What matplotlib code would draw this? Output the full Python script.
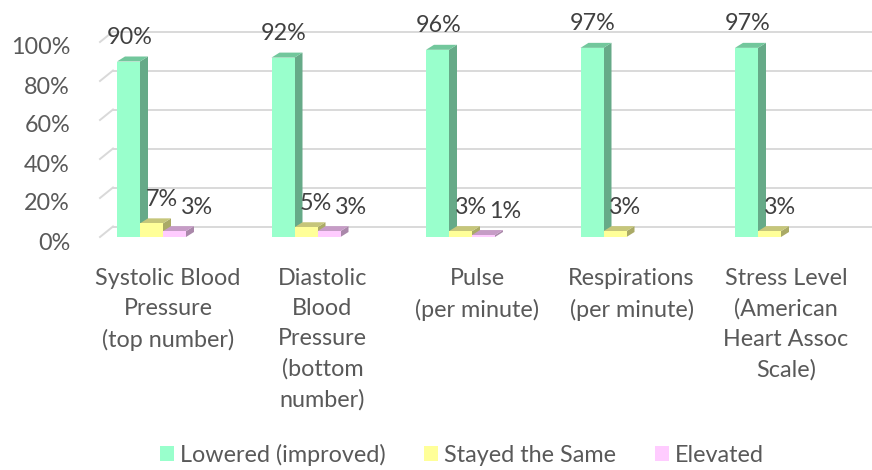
import matplotlib.pyplot as plt
from matplotlib.patches import Polygon, Patch
from matplotlib.transforms import ScaledTranslation

plt.rcParams['font.family'] = ['Lato', 'DejaVu Sans']

categories = ['Systolic Blood\nPressure\n(top number)',
              'Diastolic\nBlood\nPressure\n(bottom\nnumber)',
              'Pulse\n(per minute)',
              'Respirations\n(per minute)',
              'Stress Level\n(American\nHeart Assoc\nScale)']
series_names = ['Lowered (improved)', 'Stayed the Same', 'Elevated']
lowered = [90, 92, 96, 97, 97]
stayed = [7, 5, 3, 3, 3]
elevated = [3, 3, 1, 0, 0]
y_ticks = [0, 20, 40, 60, 80, 100]

FRONT = ['#99FFCC', '#FFFF99', '#FFCCFF']
SIDE = ['#66AA88', '#AAAA66', '#AA88AA']
TOP = ['#72C79C', '#C6C67A', '#C69CC6']
LABEL_DX = [1, 10, 22]   # px, label shift to the right of the bar centre
FS = 16.8

W, H = 872, 470
PX_X = 154.5   # px per category
PX_Y = 1.95    # px per percent
BAR_W = 23 / PX_X
DX, DY = 8 / PX_X, 5 / PX_Y          # bar depth
WALL_DX, WALL_DY = 13 / PX_X, 10.5 / PX_Y   # floor depth

fig = plt.figure(figsize=(W / 100, H / 100), dpi=100)
left, right, top, bottom = 100, 872, 18, 237
ax = fig.add_axes([left / W, 1 - bottom / H, (right - left) / W, (bottom - top) / H])
x0 = (left - 151.5) / PX_X
ax.set_xlim(x0, x0 + (right - left) / PX_X)
ax.set_ylim(0, (bottom - top) / PX_Y)
for s in ax.spines.values():
    s.set_visible(False)

grid_c = '#d9d9d9'
for v in y_ticks:
    ax.plot([x0, x0 + WALL_DX], [v, v + WALL_DY], color=grid_c, lw=1.4, clip_on=False, zorder=1)
    ax.plot([x0 + WALL_DX, ax.get_xlim()[1]], [v + WALL_DY] * 2, color=grid_c, lw=1.4,
            clip_on=False, zorder=1)

data = [lowered, stayed, elevated]
for i in range(len(categories)):
    gx = i - 1.5 * BAR_W
    for k, vals in enumerate(data):
        v = vals[i]
        if v == 0:
            continue
        x = gx + k * BAR_W
        side = [(x + BAR_W, 0), (x + BAR_W + DX, DY), (x + BAR_W + DX, v + DY), (x + BAR_W, v)]
        topf = [(x, v), (x + DX, v + DY), (x + BAR_W + DX, v + DY), (x + BAR_W, v)]
        ax.add_patch(Polygon(side, closed=True, fc=SIDE[k], ec='none', zorder=2, clip_on=False))
        ax.add_patch(Polygon(topf, closed=True, fc=TOP[k], ec='none', zorder=2, clip_on=False))
        ax.add_patch(plt.Rectangle((x, 0), BAR_W, v, fc=FRONT[k], ec='none', zorder=2, clip_on=False))
        ax.annotate(f'{v}%', (x + BAR_W / 2, v), xytext=(LABEL_DX[k] * 0.72, 24 * 0.72),
                    textcoords='offset points', ha='center', va='center',
                    fontsize=FS, color='#404040', zorder=3, annotation_clip=False)

ax.set_yticks(y_ticks)
ax.set_yticklabels([f'{v}%' for v in y_ticks])
ax.set_xticks([i + 16.5 / PX_X for i in range(len(categories))])
ax.set_xticklabels(categories, linespacing=1.53)
ax.tick_params(axis='both', length=0, labelsize=FS, labelcolor='#595959')
ax.tick_params(axis='y', pad=30 * 0.72)
ax.tick_params(axis='x', pad=31 * 0.72)
for lab in ax.get_yticklabels():
    lab.set_transform(lab.get_transform() + ScaledTranslation(0, -4 / 100, fig.dpi_scale_trans))

handles = [Patch(fc=FRONT[k], ec='none') for k in range(3)]
fig.legend(handles, series_names, loc='center', bbox_to_anchor=(462 / W, 1 - 455 / H),
           ncol=3, frameon=False, fontsize=FS, labelcolor='#595959',
           handlelength=0.6, handleheight=0.6, handletextpad=0.25, columnspacing=1.65,
           borderpad=0, borderaxespad=0)

fig.savefig('out.png', dpi=100)
